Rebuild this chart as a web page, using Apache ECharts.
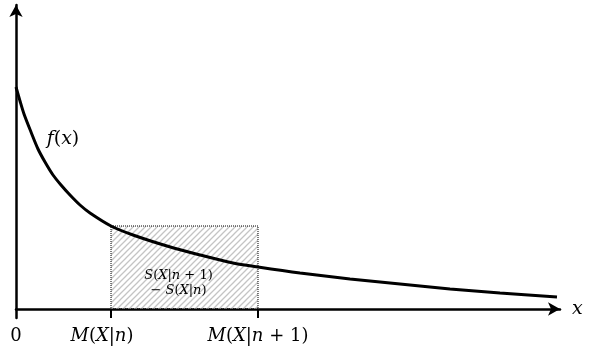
<!DOCTYPE html>
<html>
<head>
<meta charset="utf-8">
<script src="https://cdn.jsdelivr.net/npm/echarts@6/dist/echarts.min.js"></script>
<style>
  html, body { margin: 0; padding: 0; background: #fff; }
  #chart { width: 598px; height: 347px; }
</style>
</head>
<body>
<div id="chart"></div>
<script>
// curve f(x) (x from the origin, y above the x axis)
const curveX = [0, 4, 8, 15, 22, 29, 37, 45, 54, 64, 74, 95, 117, 151, 184, 217, 242, 284, 334, 384, 434, 484, 541]
const curveY = [222, 208, 195, 177, 160, 147, 134, 124, 114, 104, 96, 83, 74, 63, 54, 46, 42, 36, 30, 25, 20, 16, 12]

// marked points on the x axis
const tickValues = [0, 95, 242]
const tickLabels = ['{r|0}', '{i|M}{r|(}{i|X}{r||}{i|n}{r|)}{sp|}', '{i|M}{r|(}{i|X}{r||}{i|n}{r| + 1)}']

// shaded rectangle: from M(X|n) to M(X|n+1), height f(M(X|n))
const rectX = [95, 242]
const rectTop = 83

const serif = 'DejaVu Serif'

function hatch () {
  const c = document.createElement('canvas')
  c.width = 6
  c.height = 6
  const g = c.getContext('2d')
  g.strokeStyle = '#c4c4c4'
  g.lineWidth = 1.3
  g.beginPath()
  g.moveTo(0, 6); g.lineTo(6, 0)
  g.moveTo(-1, 1); g.lineTo(1, -1)
  g.moveTo(5, 7); g.lineTo(7, 5)
  g.stroke()
  return c
}

const rich = {
  i: { fontFamily: serif, fontStyle: 'italic', fontSize: 18, color: '#000' },
  r: { fontFamily: serif, fontSize: 18, color: '#000' },
  sp: { width: 18 }
}
const richSmall = {
  i: { fontFamily: serif, fontStyle: 'italic', fontSize: 13, color: '#000', lineHeight: 15 },
  r: { fontFamily: serif, fontSize: 13, color: '#000', lineHeight: 15 }
}

const chart = echarts.init(document.getElementById('chart'))
const option = {
  animation: false,
  grid: { left: 16, right: 38, top: 5, bottom: 29 },
  xAxis: {
    type: 'value',
    min: 0,
    max: 544,
    name: 'x',
    nameLocation: 'end',
    nameGap: 12,
    nameTextStyle: { fontFamily: serif, fontStyle: 'italic', fontSize: 19, color: '#000', verticalAlign: 'middle' },
    axisLine: {
      onZero: true,
      symbol: ['none', 'arrow'],
      symbolSize: [10, 12],
      lineStyle: { color: '#000', width: 2.5 }
    },
    axisTick: {
      show: true,
      customValues: rectX,
      length: 9,
      lineStyle: { color: '#000', width: 2 }
    },
    axisLabel: {
      customValues: tickValues,
      margin: 9,
      formatter: function (v) {
        return tickLabels[tickValues.indexOf(v)]
      },
      rich: rich
    },
    splitLine: { show: false }
  },
  yAxis: {
    type: 'value',
    min: -9,
    max: 304,
    axisLine: {
      show: true,
      onZero: false,
      symbol: ['none', 'arrow'],
      symbolSize: [10, 12],
      lineStyle: { color: '#000', width: 2.5 }
    },
    axisTick: { show: false },
    axisLabel: { show: false },
    splitLine: { show: false }
  },
  series: [
    {
      type: 'line',
      smooth: 0.3,
      showSymbol: false,
      silent: true,
      z: 3,
      lineStyle: { color: '#000', width: 3 },
      data: curveX.map((x, i) => [x, curveY[i]]),
      markPoint: {
        silent: true,
        symbol: 'circle',
        symbolSize: 0,
        label: {
          show: true,
          formatter: '{i|f}{r|(}{i|x}{r|)}',
          rich: {
            i: { fontFamily: serif, fontStyle: 'italic', fontSize: 19, color: '#000' },
            r: { fontFamily: serif, fontSize: 19, color: '#000' }
          }
        },
        data: [{ coord: [47, 170], value: 'f(x)' }]
      },
      markArea: {
        silent: true,
        itemStyle: {
          color: { image: hatch(), repeat: 'repeat' },
          borderColor: '#000',
          borderWidth: 1,
          borderType: 'dotted'
        },
        label: {
          show: true,
          position: 'insideBottom',
          distance: 11,
          offset: [-6, 0],
          align: 'center',
          formatter: '{i|S}{r|(}{i|X}{r||}{i|n}{r| + 1)}\n{r|− }{i|S}{r|(}{i|X}{r||}{i|n}{r|)}',
          rich: richSmall
        },
        data: [[{ xAxis: rectX[0], yAxis: 0 }, { xAxis: rectX[1], yAxis: rectTop }]]
      }
    }
  ]
}
chart.setOption(option)
</script>
</body>
</html>
